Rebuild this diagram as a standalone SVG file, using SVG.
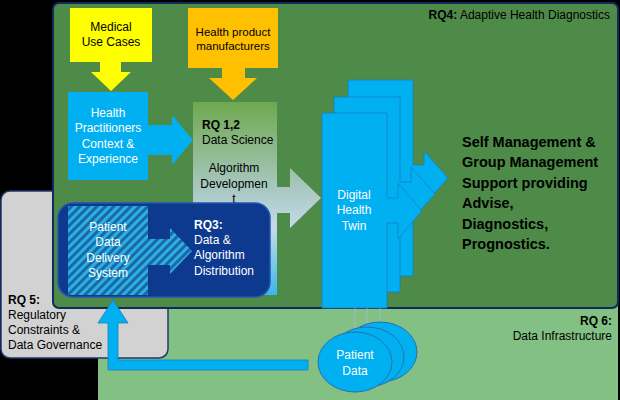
<svg xmlns="http://www.w3.org/2000/svg" width="620" height="400" viewBox="0 0 620 400">
<defs>
<style>
text{font-family:"Liberation Sans",Arial,sans-serif;font-size:12px}
.w{fill:#ffffff}
.k{fill:#000000}
.b{font-weight:bold}
.c{text-anchor:middle}
.r{text-anchor:end}
.blue{fill:#00b0f0;stroke:#1a7fbf;stroke-width:0.8}
</style>
<linearGradient id="gds" gradientUnits="userSpaceOnUse" x1="0" y1="102" x2="0" y2="296">
<stop offset="0" stop-color="#6ea84e"/>
<stop offset="0.45" stop-color="#a9c8c2"/>
<stop offset="0.65" stop-color="#c4dbe8"/>
<stop offset="1" stop-color="#38b6ee"/>
</linearGradient>
<pattern id="hatch" width="6" height="6" patternUnits="userSpaceOnUse" patternTransform="rotate(45)">
<rect width="6" height="6" fill="#1a68a6"/>
<rect width="3" height="6" fill="#2cb0e2"/>
</pattern>
</defs>
<rect width="620" height="400" fill="#000000"/>
<g id="rq6">
<rect x="98" y="300" width="520" height="100" fill="#82c083"/>
<text class="k b r" x="612" y="325">RQ 6:</text>
<text class="k r" x="612" y="340">Data Infrastructure</text>
</g>
<g id="rq5">
<rect x="1" y="191" width="167" height="167" rx="9" fill="#d2d2d2" stroke="#1f3a6e" stroke-width="1.5"/>
<text class="k b" x="8" y="304">RQ 5:</text>
<text class="k" x="8" y="319">Regulatory</text>
<text class="k" x="8" y="334">Constraints &amp;</text>
<text class="k" x="8" y="349">Data Governance</text>
</g>
<g id="rq4">
<rect x="53" y="3" width="565" height="305" rx="6" fill="#4e8b48" stroke="#102a5c" stroke-width="2"/>
<text class="k r" x="610" y="19"><tspan class="b">RQ4:</tspan> Adaptive Health Diagnostics</text>
</g>
<g id="medical-use-cases">
<rect x="70" y="8" width="82" height="54" fill="#ffff00"/>
<text class="k c" x="111" y="31">Medical</text>
<text class="k c" x="111" y="46">Use Cases</text>
</g>
<g id="health-product-manufacturers">
<rect x="188" y="8" width="90" height="60" fill="#ffc000"/>
<text class="k c" x="233" y="36" style="font-size:11.5px">Health product</text>
<text class="k c" x="233" y="50" style="font-size:11.5px">manufacturers</text>
</g>
<g id="health-practitioners">
<rect x="68" y="92" width="80" height="88" fill="#00b0f0"/>
<text class="w c" x="108" y="117">Health</text>
<text class="w c" x="108" y="132">Practitioners</text>
<text class="w c" x="108" y="148">Context &amp;</text>
<text class="w c" x="108" y="163">Experience</text>
</g>
<g id="data-science">
<path d="M193,102 H277 V187 H290 V168 L321,198 L290,228 V213 H277 V295 H193 Z" fill="url(#gds)"/>
<text class="k b" x="202" y="129">RQ 1,2</text>
<text class="k" x="202" y="144">Data Science</text>
<text class="k c" x="234" y="172">Algorithm</text>
<text class="k c" x="234" y="188">Developmen</text>
<text class="k c" x="234" y="203">t</text>
</g>
<g id="connectors">
<polygon points="100,62 121,62 121,72 131,72 111,91 91,72 100,72" fill="#ffff00"/>
<polygon points="222,68 245,68 245,78 257,78 233,100 209,78 222,78" fill="#ffc000"/>
<polygon points="148,125 172,125 172,115 193,140 172,165 172,155 148,155" fill="#00b0f0"/>
<polygon points="308,360 118,360 118,323 128,323 113,300 98,323 108,323 108,370 308,370" class="blue"/>
<line x1="355" y1="308" x2="355" y2="333" stroke="#9fb8c8" stroke-width="1"/>
<line x1="367" y1="308" x2="367" y2="328" stroke="#9fb8c8" stroke-width="1"/>
<line x1="380" y1="308" x2="380" y2="323" stroke="#9fb8c8" stroke-width="1"/>
</g>
<g id="rq3">
<rect x="58" y="203" width="212" height="94" rx="15" fill="#0d3a8f" stroke="#2356b0" stroke-width="1.5"/>
<rect x="68" y="206" width="80" height="89" fill="url(#hatch)"/>
<polygon points="147,239 170,239 170,228 192,251 170,274 170,265 147,265" fill="url(#hatch)"/>
<text class="w c" x="108" y="231">Patient</text>
<text class="w c" x="108" y="246">Data</text>
<text class="w c" x="108" y="262">Delivery</text>
<text class="w c" x="108" y="277">System</text>
<text class="w b" x="194" y="229">RQ3:</text>
<text class="w" x="194" y="244">Data &amp;</text>
<text class="w" x="194" y="259">Algorithm</text>
<text class="w" x="194" y="275">Distribution</text>
</g>
<g id="digital-health-twin">
<path class="blue" d="M348,80 H413 V165 H424 V151 L448,178 L424,205 V191 H413 V276 H348 Z"/>
<path class="blue" d="M334,97 H400 V182 H411 V167 L435,194 L411,221 V207 H400 V292 H334 Z"/>
<path class="blue" d="M322,113 H387 V198 H398 V183 L422,211 L398,239 V223 H387 V308 H322 Z"/>
<text class="w c" x="354" y="199">Digital</text>
<text class="w c" x="354" y="214">Health</text>
<text class="w c" x="354" y="230">Twin</text>
</g>
<g id="self-management">
<text class="k b" x="462" y="147" style="font-size:14.5px">Self Management &amp;</text>
<text class="k b" x="462" y="167" style="font-size:14.5px">Group Management</text>
<text class="k b" x="462" y="188" style="font-size:14.5px">Support providing</text>
<text class="k b" x="462" y="208" style="font-size:14.5px">Advise,</text>
<text class="k b" x="462" y="229" style="font-size:14.5px">Diagnostics,</text>
<text class="k b" x="462" y="249" style="font-size:14.5px">Prognostics.</text>
</g>
<g id="patient-data">
<ellipse cx="380" cy="352" rx="37" ry="30" fill="#00b0f0" stroke="#2a6fb0" stroke-width="1"/>
<ellipse cx="367" cy="357" rx="37" ry="30" fill="#00b0f0" stroke="#2a6fb0" stroke-width="1"/>
<ellipse cx="355" cy="362" rx="37" ry="30" fill="#00b0f0" stroke="#2a6fb0" stroke-width="1"/>
<text class="w c" x="355" y="359">Patient</text>
<text class="w c" x="355" y="375">Data</text>
</g>
</svg>
